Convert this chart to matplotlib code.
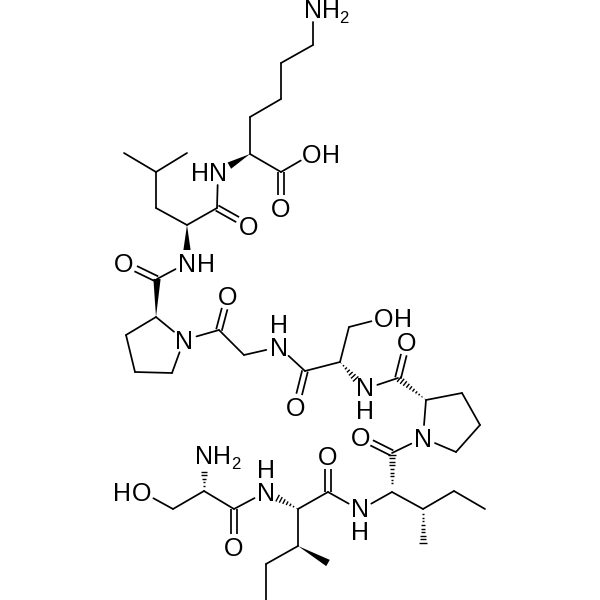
import numpy as np
import matplotlib
matplotlib.use("Agg")
import matplotlib.pyplot as plt

# atom positions
atom_names = ["N1", "C1", "C2", "C3", "C4", "CA1", "C5", "OH1", "O1", "N2",
              "C6", "O2", "CA2", "CB2", "CG2", "ME1", "ME2", "N3",
              "C7", "O3", "PA1", "PB1", "PG1", "PD1", "N4",
              "C8", "O4", "C9", "N5",
              "C10", "O5", "CA3", "CB3", "OH2", "N6",
              "C11", "O6", "PA2", "PB2", "PG2", "PD2", "N7",
              "C12", "O7", "CA4", "N8", "CB4", "CG4", "CD4", "ME3",
              "C13", "O8", "CA5", "N9", "CB5", "ME4", "CG5", "CD5",
              "C14", "O9", "CA6", "N10", "CB6", "OH3"]
atom_x = [313, 313, 281, 281, 250, 250, 281, 312, 281, 218,
          217, 249, 187, 156, 156, 124, 187, 187,
          157, 124, 156, 126, 135, 172, 184,
          219, 228, 244, 279,
          305, 296, 340, 349, 384, 365,
          398, 407, 426, 462, 480, 456, 423,
          392, 360, 392, 360, 423, 454, 485, 423,
          328, 328, 298, 266, 298, 328, 266, 266,
          234, 234, 204, 204, 173, 142]
atom_y = [9, 45, 63, 99, 117, 154, 172, 154, 208, 172,
          208, 226, 225, 208, 172, 153, 153, 263,
          279, 263, 317, 335, 372, 373, 340,
          330, 296, 355, 347,
          371, 407, 362, 327, 318, 389,
          378, 342, 400, 393, 425, 452, 438,
          453, 437, 492, 510, 509, 491, 509, 545,
          492, 456, 509, 492, 546, 563, 564, 600,
          509, 547, 491, 455, 509, 492]

single_bonds = [("N1", "C1"), ("C1", "C2"), ("C2", "C3"), ("C3", "C4"), ("C4", "CA1"),
                ("CA1", "C5"), ("C5", "OH1"), ("N2", "C6"), ("C6", "CA2"), ("CA2", "CB2"),
                ("CB2", "CG2"), ("CG2", "ME1"), ("CG2", "ME2"), ("N3", "C7"),
                ("PA1", "PB1"), ("PB1", "PG1"), ("PG1", "PD1"), ("PD1", "N4"), ("N4", "PA1"),
                ("N4", "C8"), ("C8", "C9"), ("C9", "N5"), ("N5", "C10"), ("C10", "CA3"),
                ("CA3", "CB3"), ("CB3", "OH2"), ("N6", "C11"),
                ("PA2", "PB2"), ("PB2", "PG2"), ("PG2", "PD2"), ("PD2", "N7"), ("N7", "PA2"),
                ("N7", "C12"), ("CA4", "N8"), ("CA4", "CB4"), ("CB4", "CG4"), ("CG4", "CD4"),
                ("N8", "C13"), ("C13", "CA5"), ("CA5", "CB5"), ("CB5", "CG5"), ("CG5", "CD5"),
                ("N9", "C14"), ("C14", "CA6"), ("CA6", "CB6"), ("CB6", "OH3")]
double_bonds = [("C5", "O1"), ("C6", "O2"), ("C7", "O3"), ("C8", "O4"), ("C10", "O5"),
                ("C11", "O6"), ("C12", "O7"), ("C13", "O8"), ("C14", "O9")]
# narrow end first, wide end second
wedge_bonds = [("CA1", "N2"), ("CA2", "N3"), ("PA1", "C7"), ("CB5", "ME4")]
hash_bonds = [("CA3", "N6"), ("PA2", "C11"), ("CA4", "C12"), ("CB4", "ME3"),
              ("CA5", "N9"), ("CA6", "N10")]

# atoms that carry a label, so bonds stop short of them
hetero_atoms = ["N1", "OH1", "O1", "N2", "O2", "N3", "O3", "N4", "O4", "N5", "O5", "OH2",
                "N6", "O6", "N7", "O7", "N8", "O8", "N9", "O9", "N10", "OH3"]

# one entry per glyph: text, centre x, centre y
label_text = ["N", "H", "O", "H", "H", "N", "O", "O", "N", "H", "O", "N", "O",
              "O", "O", "H", "O", "N", "O", "O", "O",
              "N", "H", "H", "O"]
label_x = [313, 331, 312, 331, 200, 218, 281, 249, 187, 206, 124, 184, 228,
           296, 384, 403, 407, 423, 361, 328, 234,
           204, 222, 122, 142]
label_y = [9, 9, 154, 154, 172, 172, 208, 226, 263, 263, 263, 340, 296,
           407, 318, 318, 342, 438, 437, 456, 547,
           455, 455, 492, 492]
# NH written one above the other, y is the lower letter
stack_text = ["H\nN", "N\nH", "N\nH", "H\nN"]
stack_x = [279, 365, 360, 266]
stack_y = [347, 410, 531, 492]
sub_x = [344, 236]
sub_y = [17, 463]

pos = dict(zip(atom_names, zip(atom_x, atom_y)))
FS = 18.0
LW = 1.25
GAP = 13


def ends(a, b):
    p, q = np.array(pos[a], float), np.array(pos[b], float)
    u = (q - p) / np.linalg.norm(q - p)
    if a in hetero_atoms:
        p = p + u * GAP
    if b in hetero_atoms:
        q = q - u * GAP
    return p, q, u


plt.rcParams["font.family"] = ["Liberation Sans", "DejaVu Sans"]
fig = plt.figure(figsize=(6, 6), dpi=100)
ax = fig.add_axes([0, 0, 1, 1])
ax.set_xlim(0, 600)
ax.set_ylim(600, 0)
ax.axis("off")

for a, b in single_bonds:
    p, q, u = ends(a, b)
    ax.plot([p[0], q[0]], [p[1], q[1]], color="black", lw=LW, solid_capstyle="round")

for a, b in double_bonds:
    p, q, u = ends(a, b)
    n = np.array([-u[1], u[0]])
    for s in (-2.9, 2.9):
        ax.plot([p[0] + n[0] * s, q[0] + n[0] * s], [p[1] + n[1] * s, q[1] + n[1] * s],
                color="black", lw=LW, solid_capstyle="butt")

for a, b in wedge_bonds:
    p, q, u = ends(a, b)
    n = np.array([-u[1], u[0]])
    ax.fill([p[0], q[0] + n[0] * 3.6, q[0] - n[0] * 3.6],
            [p[1], q[1] + n[1] * 3.6, q[1] - n[1] * 3.6], color="black", lw=0)

for a, b in hash_bonds:
    p, q, u = ends(a, b)
    n = np.array([-u[1], u[0]])
    length = np.linalg.norm(q - p)
    for t in np.arange(1.5, length + 0.1, 3.6):
        c = p + u * t
        w = 3.8 * t / length
        ax.plot([c[0] + n[0] * w, c[0] - n[0] * w], [c[1] + n[1] * w, c[1] - n[1] * w],
                color="black", lw=1.0, solid_capstyle="butt")

for s, x, y in zip(label_text, label_x, label_y):
    ax.text(x, y + 8.6, s, fontsize=FS, ha="center", va="baseline", color="black")
for s, x, y in zip(stack_text, stack_x, stack_y):
    ax.text(x, y + 8.6, s, fontsize=FS, ha="center", va="baseline", color="black",
            linespacing=0.92, multialignment="center")
for x, y in zip(sub_x, sub_y):
    ax.text(x, y + 6, "2", fontsize=12, ha="center", va="baseline", color="black")

fig.savefig("out.png", dpi=100, facecolor="white")
